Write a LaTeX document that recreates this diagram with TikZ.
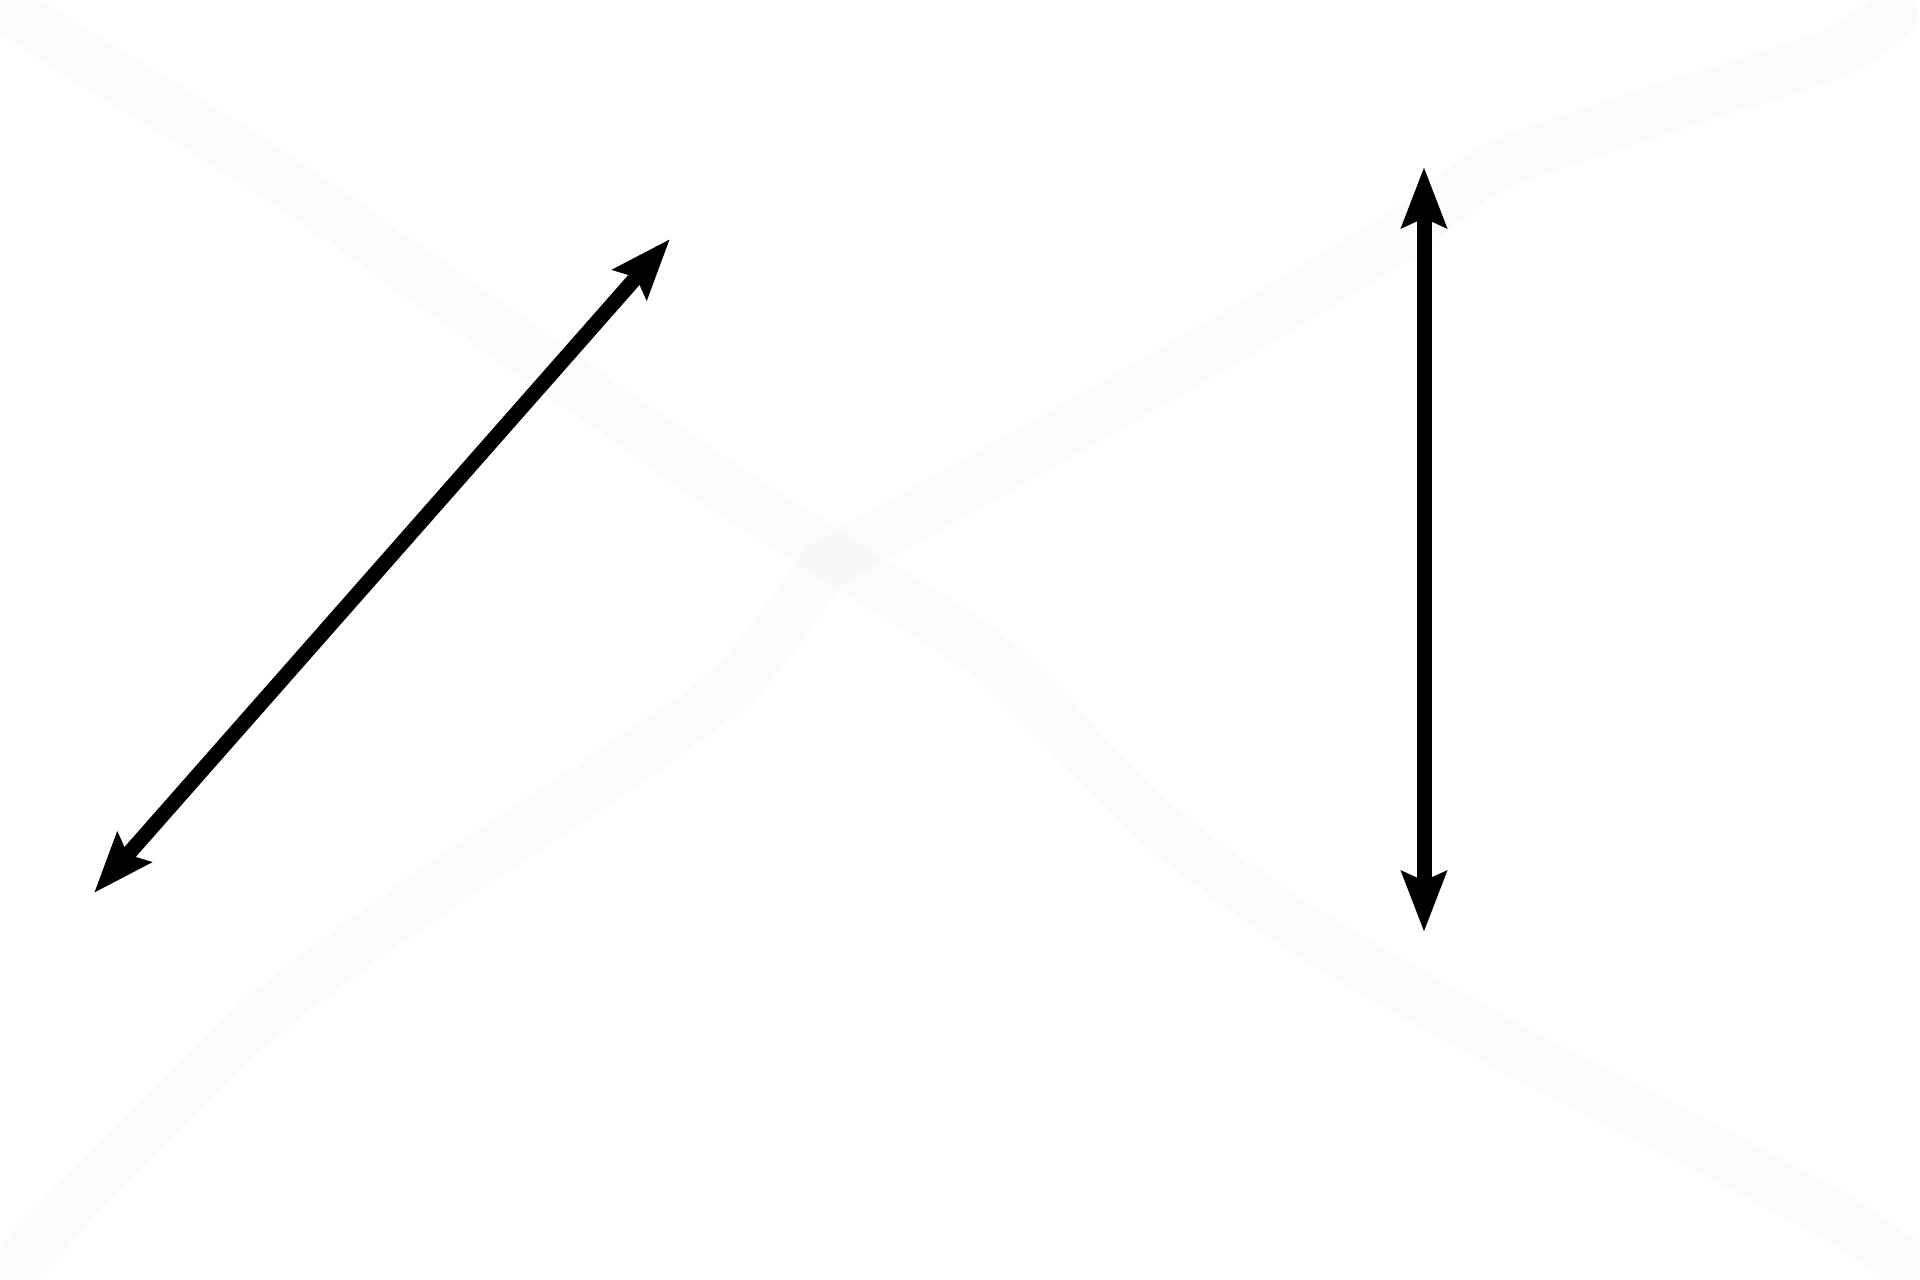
\documentclass[tikz,border=0pt]{standalone}
\usepackage{xcolor}
\usepackage{tikz}
\usetikzlibrary{arrows.meta}
\def\largeur{1920}
\def\hauteur{1280}

\begin{document}
\begin{tikzpicture}[x=0.01cm, y=-0.01cm,
    bande/.style={line width=0.5cm, black, opacity=0.014, line cap=round, line join=round},
    fleche/.style={line width=0.15cm, black, {Stealth[length=0.6cm, width=0.44cm, inset=0.09cm]}-{Stealth[length=0.6cm, width=0.44cm, inset=0.09cm]}}]
\useasboundingbox (0,0) rectangle (\largeur,\hauteur);
%\draw[step=100, line width=0.1mm, black!30!white] (0,0) grid (\largeur,\hauteur);
    \coordinate (d1) at (94,893);
    \coordinate (d2) at (670,239);
    \coordinate (v1) at (1424,167);
    \coordinate (v2) at (1424,932);
    % bandes claires
    \draw[bande] plot[smooth, tension=0.45] coordinates {(8,8) (80,55) (200,128) (300,192) (400,262) (700,471) (850,567) (1000,665) (1150,818) (1305,931) (1500,1042) (1667,1128) (1833,1215) (1915,1270)};
    \draw[bande] plot[smooth, tension=0.45] coordinates {(14,1268) (125,1150) (270,1010) (430,893) (600,780) (735,683) (825,565)}
        -- plot[smooth, tension=0.45] coordinates {(825,565) (1000,468) (1200,355) (1400,236) (1500,165) (1700,97) (1833,54) (1893,15)};
    % fleches
    \draw[fleche] (d1) -- (d2);
    \draw[fleche] (v1) -- (v2);
\end{tikzpicture}
\end{document}
